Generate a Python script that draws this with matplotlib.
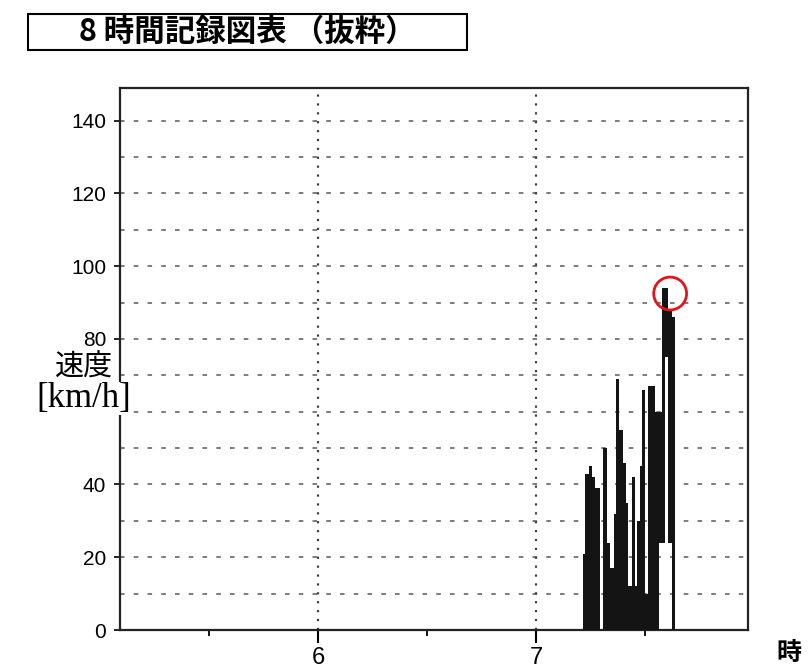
import numpy as np
import matplotlib.pyplot as plt
from matplotlib.patches import Rectangle

# tachograph trace, minutes after 7:00, speed band drawn black (lo..hi)
t_min = [12.8, 13.5, 14.7, 15.3, 16.2, 17.6, 18.5, 19.4, 20.4, 21.5, 21.9,
         22.8, 23.9, 24.8, 25.4, 26.5, 27.2, 27.9, 28.6, 29.1, 30.0, 30.9,
         32.6, 33.9, 34.7, 35.5, 36.3, 37.4, 38.3]
v_hi = [21, 43, 45, 42, 39, 0, 50, 24, 17, 32, 69,
        55, 46, 35, 12, 42, 12, 30, 45, 66, 10, 67,
        60, 60, 94, 94, 88, 86, 0]
v_lo = [0, 0, 0, 0, 0, 0, 0, 0, 0, 0, 0,
        0, 0, 0, 0, 0, 0, 0, 0, 0, 0, 0,
        0, 24, 24, 75, 24, 0, 0]

peak_min = 36.9
peak_v = 92.5

y_ticks = [0, 20, 40, 80, 100, 120, 140]
x_major = [6, 7]
x_minor = [5.5, 6.5, 7.5]

t_hr = 7 + np.array(t_min) / 60.0

fig = plt.figure(figsize=(8.11, 6.69), dpi=100)
ax = fig.add_axes([120/811, 39/669, 628/811, 542/669])

# grid
for v in range(10, 150, 10):
    ax.axhline(v, color='0.35', lw=1.1, ls=(0, (3, 6)), zorder=1)
for x in x_major:
    ax.axvline(x, color='0.25', lw=1.6, ls=(0, (1, 3)), zorder=1)

ax.fill_between(t_hr, v_lo, v_hi, step='post', color='#141414', lw=0, zorder=3)
ax.scatter([7 + peak_min/60], [peak_v], s=560, facecolors='none',
           edgecolors='#e3141b', linewidths=2, zorder=5)

ax.set_xlim(5.092, 7.972)
ax.set_ylim(0, 149)
ax.set_xticks(x_major)
ax.set_xticklabels([str(x) for x in x_major])
ax.set_xticks(x_minor, minor=True)
ax.set_yticks(y_ticks)
ax.set_yticklabels([str(v) for v in y_ticks])
ax.tick_params(axis='x', which='major', length=9, width=1.5, pad=3, labelsize=17)
ax.tick_params(axis='x', which='minor', length=4, width=1.3)
ax.tick_params(axis='y', length=4, width=1.2, pad=6, labelsize=15)
for lab in ax.get_xticklabels() + ax.get_yticklabels():
    lab.set_family('Liberation Sans')
for s in ax.spines.values():
    s.set_linewidth(1.6)
    s.set_color('#222222')

# y label with white background over the spine
fig.text(84/811, 1 - 368/669, '速度', family=['Noto Sans CJK JP', 'DejaVu Sans'],
         fontsize=21, ha='center', va='center', zorder=10,
         bbox=dict(facecolor='white', edgecolor='none', pad=0))
fig.text(84/811, 1 - 399/669, '[km/h]', family='Liberation Serif',
         fontsize=25, ha='center', va='center', zorder=10,
         bbox=dict(facecolor='white', edgecolor='none', pad=0))

fig.text(789/811, 1 - 653/669, '時', family=['Noto Sans CJK JP', 'DejaVu Sans'],
         fontsize=18, fontweight='bold', ha='center', va='center')

# title box
fig.patches.append(Rectangle((28/811, 1 - 50/669), 439/811, 36/669,
                             transform=fig.transFigure, fill=False,
                             edgecolor='black', lw=1.5))
fig.text(247/811, 1 - 32/669, '8 時間記録図表 （抜粋）',
         family=['Noto Sans CJK JP', 'DejaVu Sans'], fontsize=22,
         fontweight='bold', ha='center', va='center')

fig.savefig('out.png', dpi=100)
